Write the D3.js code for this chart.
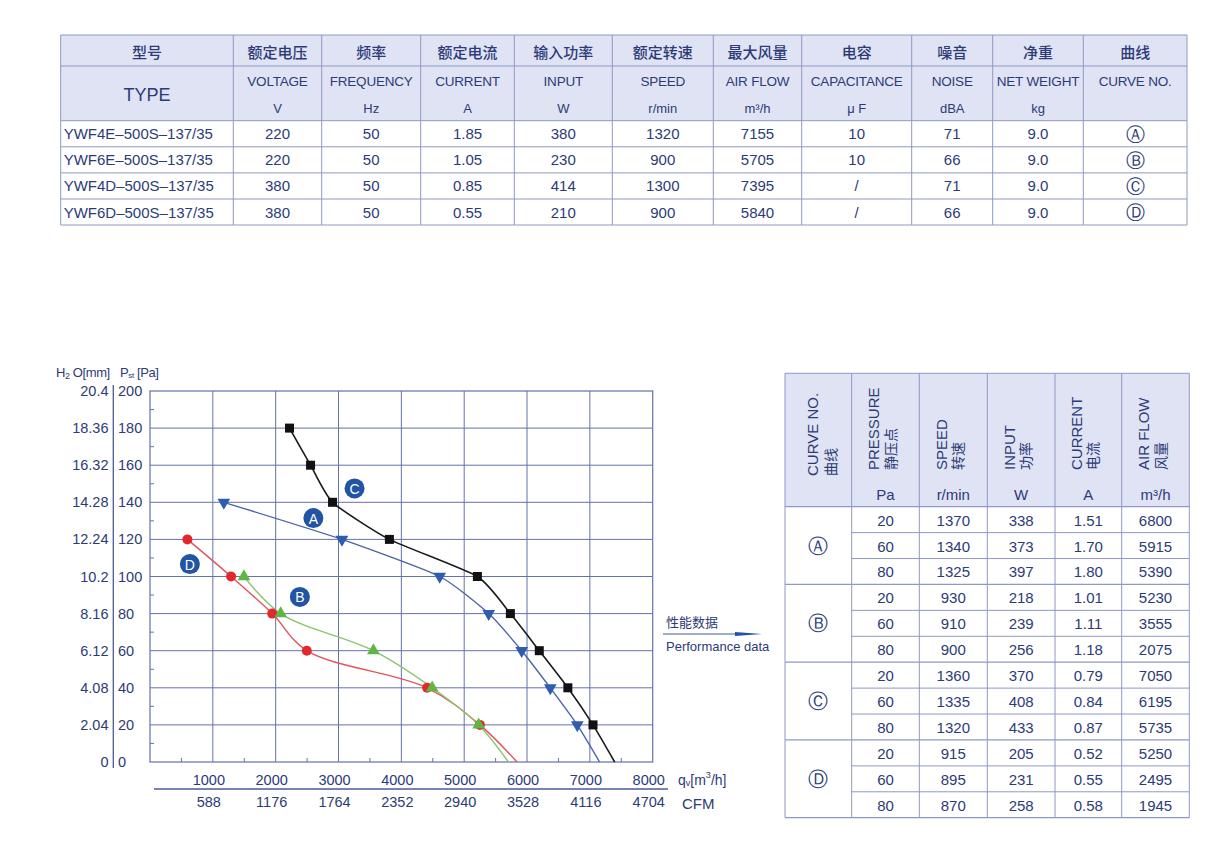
<!DOCTYPE html>
<html><head><meta charset="utf-8">
<script src="https://cdn.jsdelivr.net/npm/d3@7"></script>
<style>body{margin:0;background:#fff}svg{display:block}</style>
</head><body><svg id="c" width="1232" height="867"></svg>
<script>
// ---------------- DATA ----------------
// Top specification table
const models = ["YWF4E–500S–137/35","YWF6E–500S–137/35","YWF4D–500S–137/35","YWF6D–500S–137/35"];
const voltage = ["220","220","380","380"];
const frequency = ["50","50","50","50"];
const current = ["1.85","1.05","0.85","0.55"];
const inputPower = ["380","230","414","210"];
const speed = ["1320","900","1300","900"];
const airFlowMax = [7155,5705,7395,5840];
const capacitance = ["10","10","/","/"];
const noise = ["71","66","71","66"];
const netWeight = ["9.0","9.0","9.0","9.0"];
const curveNo = ["Ⓐ","Ⓑ","Ⓒ","Ⓓ"];
const headerCN = ["型号","额定电压","频率","额定电流","输入功率","额定转速","最大风量","电容","噪音","净重","曲线"];
const headerEN = ["TYPE","VOLTAGE","FREQUENCY","CURRENT","INPUT","SPEED","AIR FLOW","CAPACITANCE","NOISE","NET WEIGHT","CURVE NO."];
const headerUnit = ["","V","Hz","A","W","r/min","m³/h","μ F","dBA","kg",""];

// Chart axes
const pressureTicks = [0,20,40,60,80,100,120,140,160,180,200];
const mmLabels = ["0","2.04","4.08","6.12","8.16","10.2","12.24","14.28","16.32","18.36","20.4"];
const flowTicks = [1000,2000,3000,4000,5000,6000,7000,8000];
const cfmLabels = ["588","1176","1764","2352","2940","3528","4116","4704"];

// Curves (marker points), ending at max air flow at 0 Pa
const curveLetters = ["A","B","C","D"];
const flowA = [1175,3055,4610,5390,5915,6370,6800];
const pressA = [140,120,100,80,60,40,20];
const flowB = [1495,2080,3555,4490,5230];
const pressB = [100,80,60,40,20];
const flowC = [2220,2555,2905,3810,5210,5735,6195,6650,7050];
const pressC = [180,160,140,120,100,80,60,40,20];
const flowD = [595,1290,1945,2495,4410,5250];
const pressD = [120,100,80,60,40,20];
const labelFlow = [2600,2385,3255,635];
const labelPress = [131.5,89,147.5,106.7];

// Performance table
const perfPressure = [20,60,80];
const perfSpeed = [[1370,1340,1325],[930,910,900],[1360,1335,1320],[915,895,870]];
const perfInput = [[338,373,397],[218,239,256],[370,408,433],[205,231,258]];
const perfCurrent = [["1.51","1.70","1.80"],["1.01","1.11","1.18"],["0.79","0.84","0.87"],["0.52","0.55","0.58"]];
const perfAirFlow = [[6800,5915,5390],[5230,3555,2075],[7050,6195,5735],[5250,2495,1945]];
const perfHeadEN = ["CURVE NO.","PRESSURE","SPEED","INPUT","CURRENT","AIR FLOW"];
const perfHeadCN = ["曲线","静压点","转速","功率","电流","风量"];
const perfHeadUnit = ["","Pa","r/min","W","A","m³/h"];

// ---------------- STYLE ----------------
const LAT = "'Liberation Sans', Arial, sans-serif";
const CJK = "'Noto Sans CJK SC', sans-serif";
const TXT = "#2c3b78";
const GRID = "#6670ad";
const BORDER = "#8f98c6";
const HEADBG = "#dfe3f3";

const svg = d3.select("#c");

// ---------------- TOP TABLE ----------------
(function(){
  const cols = [60.7,233.3,321.7,420.7,514.3,612.3,713.3,801.7,911.7,992.7,1083.3,1187];
  const rows = [35,66,120.7,146.8,172.9,199,225];
  const g = svg.append("g");
  g.append("rect").attr("x",cols[0]).attr("y",rows[0]).attr("width",cols[11]-cols[0]).attr("height",rows[2]-rows[0]).attr("fill",HEADBG);
  rows.forEach(r=>g.append("line").attr("x1",cols[0]).attr("x2",cols[11]).attr("y1",r).attr("y2",r).attr("stroke",BORDER).attr("stroke-width",1));
  cols.forEach(c=>g.append("line").attr("x1",c).attr("x2",c).attr("y1",rows[0]).attr("y2",rows[6]).attr("stroke",BORDER).attr("stroke-width",1));
  const cx = i=>(cols[i]+cols[i+1])/2;
  headerCN.forEach((t,i)=>g.append("text").attr("x",cx(i)).attr("y",(rows[0]+rows[1])/2+1).attr("text-anchor","middle").attr("dominant-baseline","central")
     .attr("font-family",CJK).attr("font-size",15).attr("font-weight",500).attr("fill",TXT).text(t));
  headerEN.forEach((t,i)=>{
    if(i===0){
      g.append("text").attr("x",cx(i)).attr("y",(rows[1]+rows[2])/2+2).attr("text-anchor","middle").attr("dominant-baseline","central")
       .attr("font-family",LAT).attr("font-size",18).attr("fill",TXT).text(t);
    } else {
      g.append("text").attr("x",cx(i)).attr("y",81.5).attr("text-anchor","middle").attr("dominant-baseline","central")
       .attr("font-family",LAT).attr("font-size",13.5).attr("fill",TXT).attr("letter-spacing",-0.2).text(t);
      g.append("text").attr("x",cx(i)).attr("y",108).attr("text-anchor","middle").attr("dominant-baseline","central")
       .attr("font-family",LAT).attr("font-size",13).attr("fill",TXT).text(headerUnit[i]);
    }
  });
  const dataCols = [models,voltage,frequency,current,inputPower,speed,airFlowMax.map(String),capacitance,noise,netWeight,curveNo];
  dataCols.forEach((arr,i)=>arr.forEach((t,r)=>{
    const y = (rows[r+2]+rows[r+3])/2;
    g.append("text").attr("x", i===0? cols[0]+3 : cx(i)).attr("y",y).attr("text-anchor", i===0?"start":"middle").attr("dominant-baseline","central")
      .attr("font-family", i===10? "'DejaVu Sans', sans-serif" : LAT).attr("font-size", i===10?19:15).attr("fill",TXT).text(t);
  }));
})();

// ---------------- CHART ----------------
const x = d3.scaleLinear().domain([0,8000]).range([150,652.7]);
const y = d3.scaleLinear().domain([0,200]).range([762,391]);
const chart = svg.append("g");

chart.append("g").selectAll("line").data(flowTicks.filter(v=>v<8000)).join("line")
  .attr("x1",d=>x(d)).attr("x2",d=>x(d)).attr("y1",y(200)).attr("y2",y(0)).attr("stroke",GRID).attr("stroke-width",1);
chart.append("g").selectAll("line").data(pressureTicks.filter(v=>v>0&&v<200)).join("line")
  .attr("x1",x(0)).attr("x2",x(8000)).attr("y1",d=>y(d)).attr("y2",d=>y(d)).attr("stroke",GRID).attr("stroke-width",1);
chart.append("rect").attr("x",x(0)).attr("y",y(200)).attr("width",x(8000)-x(0)).attr("height",y(0)-y(200))
  .attr("fill","none").attr("stroke",GRID).attr("stroke-width",1.2);
chart.append("g").selectAll("line").data(d3.range(500,8000,1000)).join("line")
  .attr("x1",d=>x(d)).attr("x2",d=>x(d)).attr("y1",y(0)).attr("y2",y(0)-4).attr("stroke",GRID);
chart.append("g").selectAll("line").data(d3.range(10,200,20)).join("line")
  .attr("x1",x(0)).attr("x2",x(0)+4).attr("y1",d=>y(d)).attr("y2",d=>y(d)).attr("stroke",GRID);

chart.append("line").attr("x1",113.3).attr("x2",113.3).attr("y1",y(200)-6).attr("y2",y(0)+6).attr("stroke","#4c5a98").attr("stroke-width",1.3);
chart.append("g").selectAll("text").data(pressureTicks).join("text")
  .attr("x",108.5).attr("y",d=>y(d)).attr("text-anchor","end").attr("dominant-baseline","central")
  .attr("font-family",LAT).attr("font-size",14.5).attr("fill",TXT).text((d,i)=>mmLabels[i]);
chart.append("g").selectAll("text").data(pressureTicks).join("text")
  .attr("x",118).attr("y",d=>y(d)).attr("text-anchor","start").attr("dominant-baseline","central")
  .attr("font-family",LAT).attr("font-size",14.5).attr("fill",TXT).text(d=>d);
const hdr = chart.append("text").attr("x",56).attr("y",377).attr("font-family",LAT).attr("font-size",13).attr("fill",TXT).attr("letter-spacing",-0.4);
hdr.append("tspan").text("H");
hdr.append("tspan").attr("font-size",9).attr("dy",2).text("2");
hdr.append("tspan").attr("dy",-2).text(" O[mm]");
const hdr2 = chart.append("text").attr("x",120).attr("y",377).attr("font-family",LAT).attr("font-size",13).attr("fill",TXT).attr("letter-spacing",-0.4);
hdr2.append("tspan").text("P");
hdr2.append("tspan").attr("font-size",8).attr("dy",1).text("st");
hdr2.append("tspan").attr("dy",-1).text(" [Pa]");

chart.append("g").selectAll("text").data(flowTicks).join("text")
  .attr("x",d=>x(d)-4).attr("y",780).attr("text-anchor","middle").attr("dominant-baseline","central")
  .attr("font-family",LAT).attr("font-size",14.5).attr("fill",TXT).text(d=>d);
chart.append("line").attr("x1",154).attr("x2",668).attr("y1",789).attr("y2",789).attr("stroke","#4c5a98").attr("stroke-width",1.3);
chart.append("g").selectAll("text").data(flowTicks).join("text")
  .attr("x",d=>x(d)-4).attr("y",802).attr("text-anchor","middle").attr("dominant-baseline","central")
  .attr("font-family",LAT).attr("font-size",14.5).attr("fill",TXT).text((d,i)=>cfmLabels[i]);
const ql = chart.append("text").attr("x",678).attr("y",780).attr("dominant-baseline","central").attr("font-family",LAT).attr("font-size",14).attr("fill",TXT);
ql.append("tspan").text("q");
ql.append("tspan").attr("font-size",9).attr("dy",3).text("v");
ql.append("tspan").attr("dy",-3).text("[m");
ql.append("tspan").attr("font-size",9).attr("dy",-5).text("3");
ql.append("tspan").attr("dy",5).text("/h]");
chart.append("text").attr("x",682).attr("y",803).attr("dominant-baseline","central").attr("font-family",LAT).attr("font-size",15).attr("fill",TXT).text("CFM");

// curves
const flows = [flowA,flowB,flowC,flowD];
const presses = [pressA,pressB,pressC,pressD];
const lineColors = ["#4a63a9","#8cc46c","#1a1a1a","#e0545a"];
const markColors = ["#2f5cae","#62b545","#111111","#e3272c"];
const markTypes = ["tdown","tup","square","circle"];
const curveFns = [d3.curveCardinal.tension(0.45), d3.curveCatmullRom.alpha(0.5), d3.curveCardinal.tension(0.45), d3.curveCatmullRom.alpha(0.5)];
[3,1,0,2].forEach(i=>{
  const pts = flows[i].map((f,j)=>[f,presses[i][j]]);
  const all = pts.concat([[airFlowMax[i],0]]).sort((a,b)=>a[0]-b[0]);
  const line = d3.line().x(d=>x(d[0])).y(d=>y(d[1])).curve(curveFns[i]);
  chart.append("path").attr("d",line(all)).attr("fill","none").attr("stroke",lineColors[i]).attr("stroke-width",i===2?1.6:1.4);
});
[3,1,0,2].forEach(i=>{
  const pts = flows[i].map((f,j)=>[f,presses[i][j]]);
  const g = chart.append("g");
  pts.forEach(p=>{
    const px=x(p[0]), py=y(p[1]);
    if(markTypes[i]==="square") g.append("rect").attr("x",px-4.5).attr("y",py-4.5).attr("width",9).attr("height",9).attr("fill",markColors[i]);
    else if(markTypes[i]==="circle") g.append("circle").attr("cx",px).attr("cy",py).attr("r",5).attr("fill",markColors[i]);
    else {
      const sym = d3.symbol().type(d3.symbolTriangle).size(70);
      g.append("path").attr("d",sym()).attr("fill",markColors[i])
        .attr("transform",`translate(${px},${py})`+(markTypes[i]==="tdown"?" rotate(180)":""));
    }
  });
});
curveLetters.forEach((k,i)=>{
  const px=x(labelFlow[i]), py=y(labelPress[i]);
  chart.append("circle").attr("cx",px).attr("cy",py).attr("r",10).attr("fill","#2154a2");
  chart.append("text").attr("x",px).attr("y",py+0.5).attr("text-anchor","middle").attr("dominant-baseline","central")
    .attr("font-family",LAT).attr("font-size",14).attr("fill","#fff").text(k);
});

chart.append("text").attr("x",666).attr("y",627).attr("font-family",CJK).attr("font-size",13).attr("fill",TXT).text("性能数据");
chart.append("line").attr("x1",663).attr("x2",740).attr("y1",634).attr("y2",634).attr("stroke","#3f5a9e").attr("stroke-width",1);
chart.append("path").attr("d","M735,632 L762,634 L735,636 Z").attr("fill","#1f55a5");
chart.append("text").attr("x",666).attr("y",651).attr("font-family",LAT).attr("font-size",13).attr("fill",TXT).text("Performance data");

// ---------------- PERFORMANCE TABLE ----------------
(function(){
  const cols = [785,851.7,919.3,987.3,1055,1121.7,1189.3];
  const top = 373.3, hb = 506.7, bot = 817.7;
  const rh = (bot-hb)/12;
  const g = svg.append("g");
  g.append("rect").attr("x",cols[0]).attr("y",top).attr("width",cols[6]-cols[0]).attr("height",hb-top).attr("fill",HEADBG);
  g.append("line").attr("x1",cols[0]).attr("x2",cols[6]).attr("y1",top).attr("y2",top).attr("stroke",BORDER);
  for(let r=0;r<=12;r++){
    const yy = hb + r*rh;
    const full = r%3===0;
    g.append("line").attr("x1",full?cols[0]:cols[1]).attr("x2",cols[6]).attr("y1",yy).attr("y2",yy).attr("stroke",BORDER).attr("stroke-width",full?1.3:1);
  }
  cols.forEach(c=>g.append("line").attr("x1",c).attr("x2",c).attr("y1",top).attr("y2",bot).attr("stroke",BORDER));
  const cx = i=>(cols[i]+cols[i+1])/2;
  perfHeadEN.forEach((t,i)=>{
    const c = cx(i);
    const yb = i===0?476:470;
    const x1 = i===0? c-6 : c-12, x2 = i===0? c+12 : c+4;
    g.append("text").attr("transform",`translate(${x1},${yb}) rotate(-90)`).attr("dominant-baseline","central")
      .attr("font-family",LAT).attr("font-size",15).attr("fill",TXT).text(t);
    g.append("text").attr("transform",`translate(${x2},${yb}) rotate(-90)`).attr("dominant-baseline","central")
      .attr("font-family",CJK).attr("font-size",14).attr("fill",TXT).text(perfHeadCN[i]);
    if(perfHeadUnit[i]) g.append("text").attr("x",c).attr("y",494).attr("text-anchor","middle").attr("dominant-baseline","central")
      .attr("font-family",LAT).attr("font-size",15).attr("fill",TXT).text(perfHeadUnit[i]);
  });
  curveNo.forEach((k,gi)=>{
    g.append("text").attr("x",cx(0)).attr("y",hb+(gi*3+1.5)*rh).attr("text-anchor","middle").attr("dominant-baseline","central")
      .attr("font-family","'DejaVu Sans', sans-serif").attr("font-size",20).attr("fill",TXT).text(k);
    perfPressure.forEach((p,j)=>{
      const yy = hb+(gi*3+j+0.5)*rh+0.5;
      const vals = [p, perfSpeed[gi][j], perfInput[gi][j], perfCurrent[gi][j], perfAirFlow[gi][j]];
      vals.forEach((v,ci)=>g.append("text").attr("x",cx(ci+1)).attr("y",yy).attr("text-anchor","middle").attr("dominant-baseline","central")
        .attr("font-family",LAT).attr("font-size",15).attr("fill",TXT).text(v));
    });
  });
})();
</script>
</body></html>
